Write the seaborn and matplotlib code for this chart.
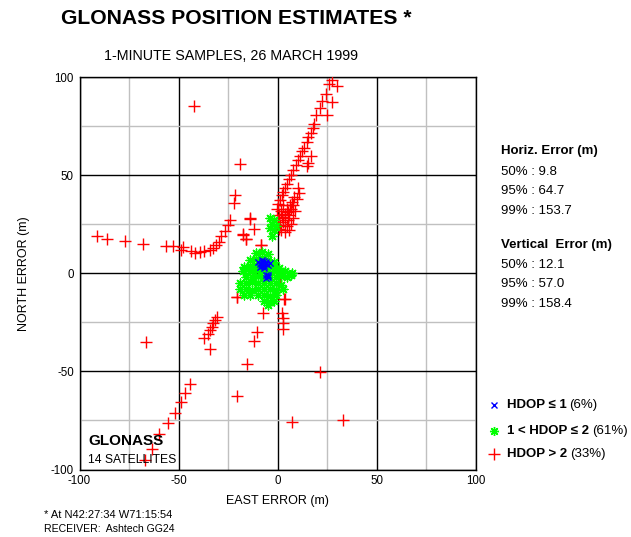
import numpy as np
import pandas as pd
import matplotlib
matplotlib.use("Agg")
import matplotlib.pyplot as plt
from matplotlib.lines import Line2D
import seaborn as sns

# east / north errors (m)
red_east = [-42.2, -18.8, -21.6, -22.1, -24.0, -25.2, -26.5, -28.4, -29.7, -31.1,
            -32.4, -34.1, -37.1, -39.1, -41.5, -43.8, -47.9, -48.9, -52.6, -56.3,
            -68.1, -77.2, -86.1, -91.0, -14.0, -17.4, -15.9, -12.0, -8.3,
            27.4, 26.2, 30.1, 24.3, 22.6, 27.7, 21.3, 19.6, 25.2, 18.4,
            17.8, 16.8, 15.6, 14.7, 13.4, 12.5, 16.9, 11.2, 10.2, 15.2,
            14.9, 9.2, 8.0, 6.8, 5.8, 4.9, 10.5, 3.8, 2.9, 2.1,
            8.5, 1.3, 7.2, 0.4, 6.3, 4.6, -0.4, 5.5, 3.8, 2.1,
            5.5, 1.3, 0.8, 3.0, 5.0, 7.0, 8.0, 6.0, 4.0, 2.0,
            9.0, 7.0, 1.0, 0.0, 2.0, 4.0, 6.0, 8.0, 3.0, 10.0, 11.0,
            -13.9, -8.5, -17.3, -15.9,
            -20.6, -7.5, -30.7, -31.6, -32.4, -32.9, -34.1, -35.0, -37.0, -34.1,
            -66.4, -10.5, -11.9, -15.6, -20.6, -44.2, -46.6, -48.9, -51.9, -55.5,
            -59.7, -63.4, -66.9,
            1.8, 3.8, 2.1, 2.9, 2.9, 2.9, 21.6, 7.2, 33.2,
            -20.6, 3.3, 1.3, -11.4, -13.0, 0.5]
red_north = [85.5, 55.6, 40.1, 36.0, 27.3, 24.5, 21.6, 18.9, 16.0, 14.3,
             13.1, 12.0, 11.4, 10.9, 10.5, 11.4, 13.4, 11.7, 13.9, 14.1,
             15.1, 16.3, 17.3, 18.9, 27.7, 20.2, 17.7, 22.4, 14.6,
             98.5, 96.4, 95.4, 91.3, 87.9, 87.4, 84.5, 80.9, 80.8, 76.3,
             74.3, 71.7, 69.5, 66.8, 64.1, 62.4, 60.0, 59.8, 57.6, 56.3,
             54.6, 55.1, 52.6, 50.0, 48.0, 45.7, 43.7, 43.7, 41.5, 39.8,
             38.9, 37.2, 36.4, 35.5, 34.7, 33.0, 33.0, 31.3, 30.4, 28.7,
             27.0, 24.5, 22.8, 26.0, 24.0, 25.0, 28.0, 30.0, 28.0, 32.0,
             32.0, 33.0, 30.0, 27.0, 22.0, 21.0, 22.0, 35.0, 35.0, 38.0, 41.0,
             28.0, 14.4, 19.5, 17.3,
             -12.2, -20.1, -22.1, -23.8, -25.5, -27.2, -28.9, -31.0, -32.9, -38.3,
             -34.9, -30.1, -34.5, -46.4, -62.6, -56.5, -61.2, -65.5, -71.1, -76.5,
             -82.0, -89.3, -95.3,
             -1.7, -13.1, -20.1, -22.6, -25.2, -28.6, -50.5, -75.7, -74.8,
             -11.9, -13.1, -1.7, -5.1, 3.0, -8.0]

green_east = [-11, -8, -5,
              -14, -11, -8, -5, -2,
              -17, -14, -11, -8, -5, -2, 1,
              -17.5, -14, -11, -8, -5, -2, 1, 4, 7.5,
              -16, -13, -10, -7, -4, -1, 2, 5, 7,
              -19, -16, -13, -10, -7, -4, -1, 2,
              -19, -16, -13, -10, -7, -4, -1, 3,
              -17, -14, -10, -7, -4, -1,
              -7, -4, -2, -5,
              -4, -2, -3, -1, -4, -2, -3]
green_north = [10.5, 11, 10,
               7, 7.5, 8, 7, 6,
               3.5, 4, 4.5, 4, 4, 4, 3,
               1, 1, 1.5, 1, 1, 1, 0.5, 1, 0,
               -2, -2, -1.5, -2, -2, -2, -1.5, -2, -1,
               -5, -5, -4.5, -5, -5, -5, -5, -6,
               -8, -8, -8.5, -8, -8, -8, -8.5, -8,
               -11, -11, -11, -11, -11.5, -11,
               -14, -14.5, -14, -16,
               28, 27, 25, 24, 23, 22, 19]

blue_east = [-9, -8, -7, -6, -8, -6, -7, -5, -9, -10, -4, -7, -8,
             -6, -5, -5, -6]
blue_north = [5, 6, 4, 5, 4, 6, 6.5, 4.5, 3.5, 6, 5.5, 3, 7,
              -1, -2, -1, -2.5]

ticks = [-100, -50, 0, 50, 100]
minor_ticks = [-75, -25, 25, 75]

horiz_lines = ["50% : 9.8", "95% : 64.7", "99% : 153.7"]
vert_lines = ["50% : 12.1", "95% : 57.0", "99% : 158.4"]
legend_bold = ["HDOP \u2264 1", "1 < HDOP \u2264 2", "HDOP > 2"]
legend_pct = ["(6%)", "(61%)", "(33%)"]

df = pd.concat([
    pd.DataFrame({"east": red_east, "north": red_north, "cls": "red"}),
    pd.DataFrame({"east": green_east, "north": green_north, "cls": "green"}),
    pd.DataFrame({"east": blue_east, "north": blue_north, "cls": "blue"}),
], ignore_index=True)

sns.set_style("white")
plt.rcParams['font.family'] = ['Liberation Sans', 'DejaVu Sans']
plt.rcParams['text.color'] = 'black'
plt.rcParams['axes.labelcolor'] = 'black'
plt.rcParams['xtick.color'] = 'black'
plt.rcParams['ytick.color'] = 'black'
plt.rcParams['axes.unicode_minus'] = False

W, H = 631, 537


def fx(px):
    return px / W


def fy(py):
    return 1 - py / H


fig = plt.figure(figsize=(W / 100, H / 100), dpi=100)
ax = fig.add_axes([fx(79.5), fy(469.5), 396 / W, 392.2 / H])

star = (8, 2, 0)
styles = {"red": dict(marker="+", color="#ff0000", s=70, linewidth=1.0),
          "green": dict(marker=star, color="#00ff00", s=40, linewidth=1.0),
          "blue": dict(marker="x", color="#0000ff", s=20, linewidth=1.0)}
for cls in ["red", "green", "blue"]:
    sns.scatterplot(data=df[df.cls == cls], x="east", y="north", ax=ax,
                    legend=False, zorder=3, **styles[cls])

ax.set_xlim(-100, 100)
ax.set_ylim(-100, 100)
ax.set_xticks(ticks)
ax.set_yticks(ticks)
ax.set_xticks(minor_ticks, minor=True)
ax.set_yticks(minor_ticks, minor=True)
ax.grid(True, which="major", color="black", linewidth=1.0)
ax.grid(True, which="minor", color="#c0c0c0", linewidth=1.0)
ax.set_axisbelow(True)
ax.tick_params(which="both", length=0, labelsize=8.3, pad=4)
for sp in ax.spines.values():
    sp.set_color("black")
    sp.set_linewidth(1.0)
ax.set_xlabel("EAST ERROR (m)", fontsize=9, labelpad=6)
ax.set_ylabel("NORTH ERROR (m)", fontsize=9, labelpad=15)

fig.text(fx(88.3), fy(441), "GLONASS", fontsize=11, fontweight="bold", va="center")
fig.text(fx(88.3), fy(460), "14 SATELLITES", fontsize=8.7, va="center")

fig.text(fx(236.5), fy(19), "GLONASS POSITION ESTIMATES *", fontsize=15.2,
         fontweight="bold", ha="center", va="center")
fig.text(fx(230.5), fy(56), "1-MINUTE SAMPLES, 26 MARCH 1999", fontsize=10.3,
         ha="center", va="center")

fig.text(fx(500.7), fy(151.3), "Horiz. Error (m)", fontsize=9.5, fontweight="bold", va="center")
for i, s in enumerate(horiz_lines):
    fig.text(fx(500.7), fy(172 + 19.4 * i), s, fontsize=9.5, va="center")
fig.text(fx(500.7), fy(245), "Vertical  Error (m)", fontsize=9.5, fontweight="bold", va="center")
for i, s in enumerate(vert_lines):
    fig.text(fx(500.7), fy(264.7 + 19.6 * i), s, fontsize=9.5, va="center")

fig.text(fx(44.3), fy(515.2), "* At N42:27:34 W71:15:54", fontsize=8, va="center")
fig.text(fx(44.3), fy(528.5), "RECEIVER:  Ashtech GG24", fontsize=7.6, va="center")

# legend drawn by hand (bold label + normal percentage)
leg_y = [405, 430.7, 454.3]
leg_styles = [("x", "#0000ff", 4.5), (star, "#00ff00", 6.5), ("+", "#ff0000", 8)]
fig.canvas.draw()
renderer = fig.canvas.get_renderer()
for y, (m, c, ms), b, p in zip(leg_y, leg_styles, legend_bold, legend_pct):
    fig.add_artist(Line2D([fx(494)], [fy(y)], marker=m, color=c, markersize=ms,
                          markeredgewidth=1.0, linestyle="none",
                          transform=fig.transFigure))
    tb = fig.text(fx(506.7), fy(y), b, fontsize=9.5, fontweight="bold", va="center")
    bb = tb.get_window_extent(renderer)
    fig.text(fx(bb.x1 + 3), fy(y), p, fontsize=9.5, va="center")

fig.savefig("out.png", dpi=100)
